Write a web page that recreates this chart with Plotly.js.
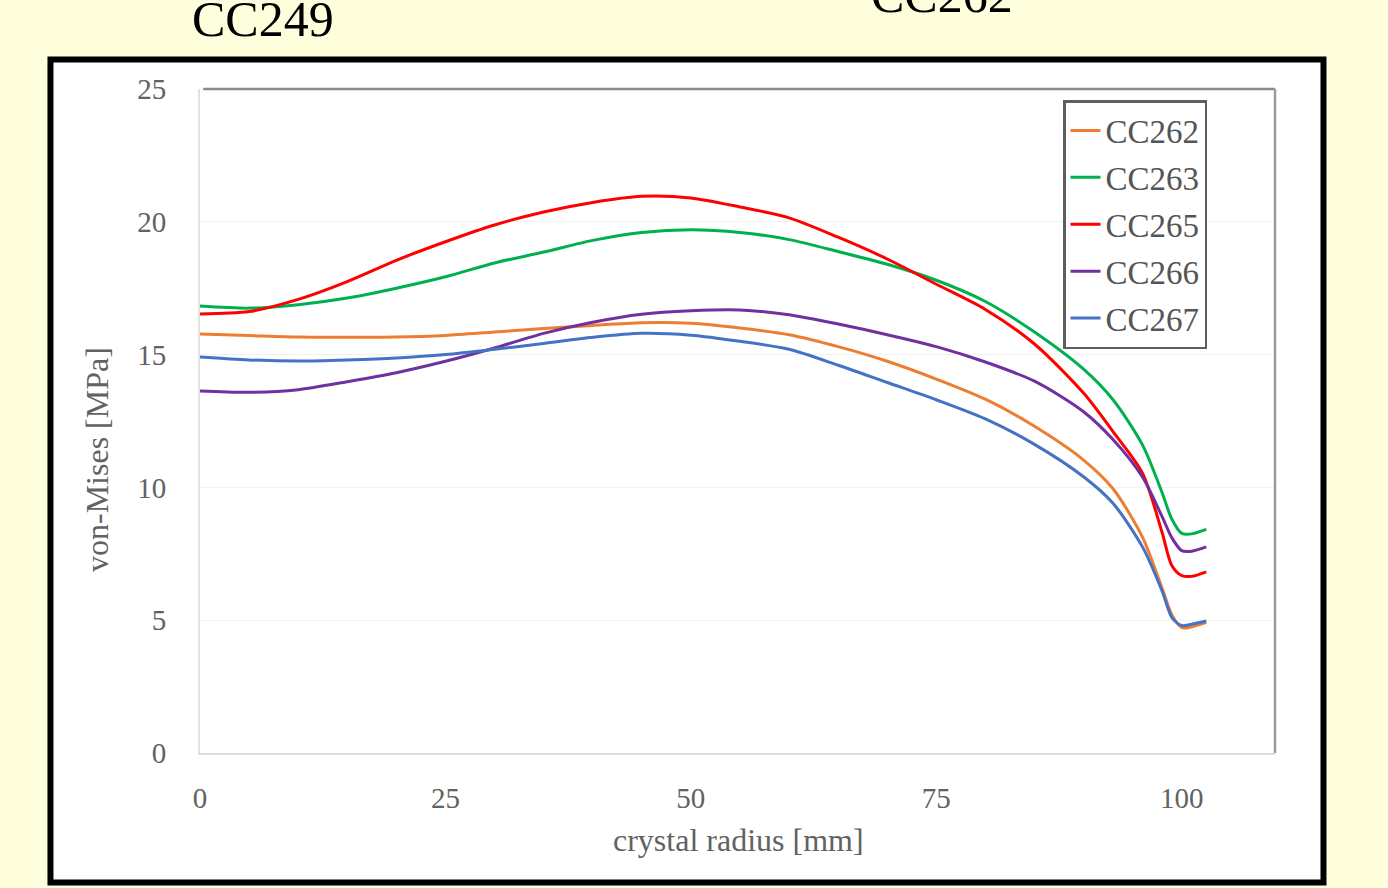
<!DOCTYPE html>
<html>
<head>
<meta charset="utf-8">
<script src="https://cdn.plot.ly/plotly-3.0.1.min.js"></script>
<style>
html,body{margin:0;padding:0;background:#FFFEDC;}
#chart{width:1388px;height:888px;}
</style>
</head>
<body>
<div id="chart"></div>
<script>
// crystal radius [mm]
var radius = [0, 5, 10, 15, 20, 25, 30, 35, 40, 45, 50, 55, 60, 65, 70, 75, 80, 85, 90, 93, 96, 98, 99, 100, 101, 102.5];

// von-Mises stress [MPa]
var cc262 = [15.78, 15.72, 15.66, 15.65, 15.66, 15.72, 15.85, 15.98, 16.10, 16.20, 16.18, 16.00, 15.75, 15.30, 14.75, 14.08, 13.32, 12.30, 11.03, 9.95, 8.13, 6.20, 5.20, 4.72, 4.75, 4.92];
var cc263 = [16.83, 16.75, 16.88, 17.13, 17.50, 17.93, 18.45, 18.86, 19.30, 19.60, 19.70, 19.60, 19.33, 18.88, 18.40, 17.80, 17.00, 15.85, 14.45, 13.30, 11.60, 9.80, 8.80, 8.27, 8.25, 8.42];
var cc265 = [16.53, 16.62, 17.08, 17.75, 18.55, 19.25, 19.88, 20.37, 20.73, 20.96, 20.90, 20.56, 20.15, 19.42, 18.60, 17.65, 16.70, 15.40, 13.55, 12.10, 10.54, 8.30, 7.05, 6.68, 6.65, 6.82];
var cc266 = [13.63, 13.58, 13.68, 13.98, 14.32, 14.75, 15.25, 15.80, 16.22, 16.52, 16.65, 16.68, 16.50, 16.15, 15.75, 15.30, 14.72, 14.00, 12.85, 11.80, 10.39, 8.90, 8.10, 7.62, 7.60, 7.76];
var cc267 = [14.91, 14.80, 14.76, 14.80, 14.87, 15.00, 15.20, 15.42, 15.65, 15.80, 15.73, 15.50, 15.20, 14.60, 13.95, 13.30, 12.58, 11.62, 10.40, 9.40, 7.76, 6.10, 5.10, 4.80, 4.85, 4.97];

var seriesNames = ['CC262', 'CC263', 'CC265', 'CC266', 'CC267'];
var seriesValues = [cc262, cc263, cc265, cc266, cc267];
var seriesColors = ['#ED7D31', '#00B050', '#FF0000', '#7030A0', '#4472C4'];

var xTicks = [0, 25, 50, 75, 100];
var yTicks = [0, 5, 10, 15, 20, 25];

var traces = seriesNames.map(function(n, i){
  return {
    x: radius, y: seriesValues[i], name: n, type: 'scatter', mode: 'lines',
    legendgroup: n,
    line: {color: seriesColors[i], width: 3, shape: 'spline', smoothing: 0.8}
  };
});

var serif = 'Liberation Serif, Times New Roman, serif';
var gray = '#626262';

var layout = {
  width: 1388, height: 888, autosize: false,
  paper_bgcolor: '#FFFEDC', plot_bgcolor: '#FFFFFF',
  margin: {l: 200, r: 113, t: 89, b: 135, pad: 0},
  showlegend: true,
  legend: {
    x: 0.8028, y: 0.9834, xanchor: 'left', yanchor: 'top',
    bgcolor: '#FFFFFF', bordercolor: '#5e5e5e', borderwidth: 2.5,
    font: {family: serif, size: 33, color: '#555555'},
    traceorder: 'grouped', tracegroupgap: 1
  },
  xaxis: {
    range: [0, 109.5], tickvals: xTicks, ticktext: xTicks.map(String),
    showgrid: false, zeroline: false,
    showline: true, linecolor: '#dcdcdc', linewidth: 2,
    ticks: '', ticklabelstandoff: 18,
    tickfont: {family: serif, size: 29, color: gray}
  },
  yaxis: {
    range: [0, 25], tickvals: yTicks, ticktext: yTicks.map(String),
    showgrid: true, gridcolor: '#f1f1f1', gridwidth: 1, zeroline: false,
    showline: true, linecolor: '#e2e2e2', linewidth: 2,
    ticks: '', ticklabelstandoff: 26,
    tickfont: {family: serif, size: 29, color: gray}
  },
  shapes: [
    {type: 'rect', xref: 'paper', yref: 'paper', x0: -0.1391, x1: 1.0451, y0: -0.195, y1: 1.0444,
     fillcolor: '#FFFFFF', line: {color: '#000000', width: 6}, layer: 'below'},
    {type: 'line', xref: 'paper', yref: 'paper', x0: 0.003, x1: 1, y0: 1, y1: 1,
     line: {color: '#8a8a8a', width: 2.5}},
    {type: 'line', xref: 'paper', yref: 'paper', x0: 1, x1: 1, y0: 0, y1: 1,
     line: {color: '#9a9a9a', width: 2.5}}
  ],
  annotations: [
    {text: 'CC249', xref: 'paper', yref: 'paper', x: 0.0586, y: 1.1054, xanchor: 'center', yanchor: 'middle',
     showarrow: false, font: {family: serif, size: 50, color: '#000000'}},
    {text: 'CC262', xref: 'paper', yref: 'paper', x: 0.690, y: 1.142, xanchor: 'center', yanchor: 'middle',
     showarrow: false, font: {family: serif, size: 50, color: '#000000'}},
    {text: 'crystal radius [mm]', xref: 'paper', yref: 'paper', x: 0.5005, y: -0.131, xanchor: 'center', yanchor: 'middle',
     showarrow: false, font: {family: serif, size: 32, color: gray}},
    {text: 'von-Mises [MPa]', xref: 'paper', yref: 'paper', x: -0.0958, y: 0.4413, xanchor: 'center', yanchor: 'middle',
     textangle: -90, showarrow: false, font: {family: serif, size: 32, color: gray}}
  ]
};

Plotly.newPlot('chart', traces, layout, {displayModeBar: false, staticPlot: true});
</script>
</body>
</html>
